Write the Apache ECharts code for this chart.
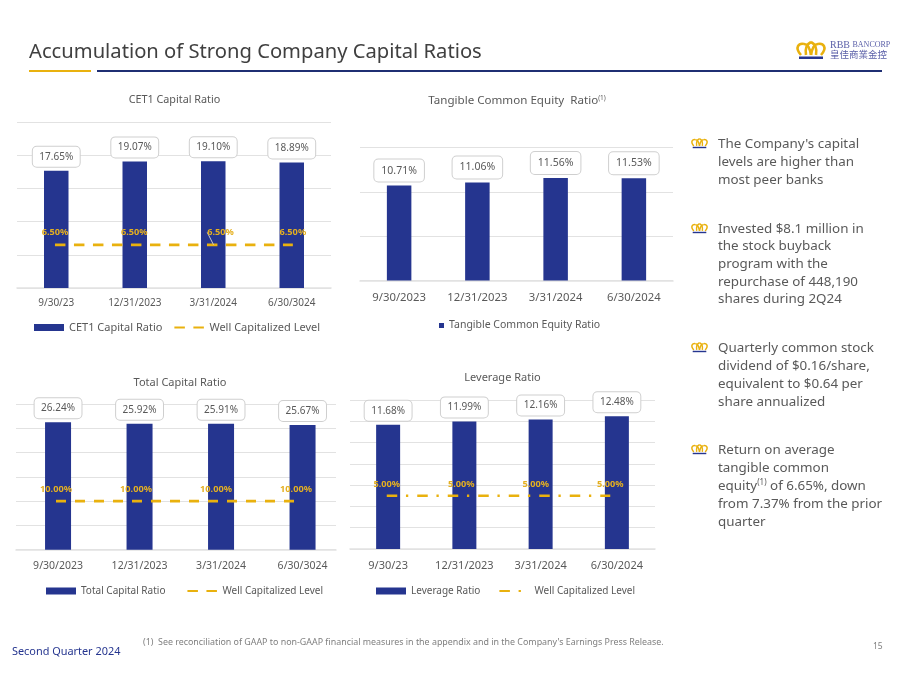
<!DOCTYPE html>
<html><head><meta charset="utf-8">
<style>html,body{margin:0;padding:0;background:#fff}#c{width:900px;height:675px}</style>
<script src="https://cdn.jsdelivr.net/npm/echarts@6/dist/echarts.min.js"></script>
</head><body><div id="c"></div>
<script>
const datesA = ['9/30/23','12/31/2023','3/31/2024','6/30/3024'];
const datesB = ['9/30/2023','12/31/2023','3/31/2024','6/30/2024'];
const datesC = ['9/30/2023','12/31/2023','3/31/2024','6/30/3024'];
const datesD = ['9/30/23','12/31/2023','3/31/2024','6/30/2024'];
const cet1 = [17.65,19.07,19.10,18.89];
const cet1Level = [6.5,6.5,6.5,6.5];
const tce = [10.71,11.06,11.56,11.53];
const total = [26.24,25.92,25.91,25.67];
const totalLevel = [10,10,10,10];
const leverage = [11.68,11.99,12.16,12.48];
const leverageLevel = [5,5,5,5];
const pageTitle = 'Accumulation of Strong Company Capital Ratios';
const footnote = "(1)  See reconciliation of GAAP to non-GAAP financial measures in the appendix and in the Company's Earnings Press Release.";
const bullets = [
 ["The Company's capital","levels are higher than","most peer banks"],
 ["Invested $8.1 million in","the stock buyback","program with the","repurchase of 448,190","shares during 2Q24"],
 ["Quarterly common stock","dividend of $0.16/share,","equivalent to $0.64 per","share annualized"],
 ["Return on average","tangible common","equity{sup|(1)} of 6.65%, down","from 7.37% from the prior","quarter"]
];
const FONT='"Noto Sans"', GREY='#595959', NAVY='#25358F', GOLD='#E9B10E', GRID='#E2E2E2';

const charts = [
 {title:'CET1 Capital Ratio', tx:174.5, ty:99, tf:10.8, cats:datesA, bars:cet1, level:cet1Level, barName:'CET1 Capital Ratio', lineName:'Well Capitalized Level',
  bg:[17,122,314,166], lg:[15.3,122,317.2,166], max:25, step:5, bw:24.5, gridOn:'bar', dash:[10.5,8.5],
  tick:10, margin:10, val:10, pad:[5,6.5,5,6.5], lblGap:8, labelDx:[1.7,1,0,-1], leaderAt:2, leaderDx:7,
  lx:34, ly:322, gap:11, lf:11},
 {title:'Tangible Common Equity  Ratio{sup|(1)}', tx:517, ty:100, tf:11.6, cats:datesB, bars:tce, barName:'Tangible Common Equity Ratio',
  bg:[360,147.5,313,133], max:15, step:5, bw:24.5, gridOn:'bar',
  tick:11.3, margin:12, val:10.5, pad:[5.5,7,5.5,7], lx:439, ly:320, lf:10.5, square:true},
 {title:'Total Capital Ratio', tx:180, ty:382, tf:11, cats:datesC, bars:total, level:totalLevel, barName:'Total Capital Ratio', lineName:'Well Capitalized Level',
  bg:[17.3,404,326,145.7], lg:[16,404,320,145.7], max:30, step:5, bw:26, gridOn:'line', dash:[10,9],
  tick:10.5, margin:11, val:10, pad:[5,6.5,5,6.5], labelDx:[2.5,4,5.5,7.5], lblGap:7, lx:46, ly:586, gap:21, lf:10},
 {title:'Leverage Ratio', tx:502.5, ty:377, tf:11, cats:datesD, bars:leverage, level:leverageLevel, barName:'Leverage Ratio', lineName:'Well Capitalized Level (Leverage)',
  bg:[350,400,305,149], lg:[349.5,400,298,149], max:14, step:2, bw:24, gridOn:'bar', dash:[10.5,8.7,2.3,9],
  tick:11, margin:11, val:10, pad:[5,6.5,5,6.5], labelDx:[2,4,5.5,7], lblGap:7, lx:376, ly:586, gap:18, lf:10}
];

const grid=[],xAxis=[],yAxis=[],series=[],legend=[],title=[];
charts.forEach(c=>{
  title.push({text:c.title,left:c.tx,top:c.ty-5,padding:0,textAlign:'center',
    textStyle:{fontFamily:FONT,fontSize:c.tf,fontWeight:'normal',color:GREY,
      rich:{sup:{fontSize:6.5,fontFamily:FONT,color:GREY,verticalAlign:'top',padding:[0,0,5,0]}}}});
  const addAxes=(b,showCat,split,showLine)=>{
    const i=grid.length;
    grid.push({left:b[0],top:b[1],width:b[2],height:b[3]});
    xAxis.push({type:'category',gridIndex:i,data:c.cats,show:true,
      axisTick:{show:false},axisLine:{show:showLine,lineStyle:{color:GRID,width:1.5}},
      axisLabel:{show:showCat,color:GREY,fontFamily:FONT,fontSize:c.tick,margin:c.margin,interval:0}});
    yAxis.push({type:'value',gridIndex:i,min:0,max:c.max,interval:c.step,
      axisLabel:{show:false},axisLine:{show:false},axisTick:{show:false},
      splitLine:{show:split,lineStyle:{color:GRID,width:1.2}}});
    return i;
  };
  const bi=addAxes(c.bg,true,c.gridOn==='bar',c.gridOn==='bar');
  series.push({name:c.barName,type:'bar',xAxisIndex:bi,yAxisIndex:bi,data:c.bars,barWidth:c.bw,z:3,
    itemStyle:{color:NAVY},
    label:{show:true,position:'top',distance:4,formatter:p=>p.value.toFixed(2)+'%',color:GREY,fontFamily:FONT,fontSize:c.val,
      backgroundColor:'#fff',borderColor:'#CFCFCF',borderWidth:1,borderRadius:4,padding:c.pad}});
  if(c.level){
    const li=addAxes(c.lg,false,c.gridOn==='line',c.gridOn==='line');
    series.push({name:c.lineName,type:'line',xAxisIndex:li,yAxisIndex:li,symbol:'circle',symbolSize:0,z:5,
      data:c.level.map((v,k)=>{
        const d={value:v,label:{offset:[c.labelDx[k],0]}};
        if(c.leaderAt===k) d.labelLine={show:true,lineStyle:{color:'#C9C9C9',width:1}};
        return d;}),
      labelLayout:p=>(c.leaderAt===p.dataIndex?{dx:c.leaderDx}:{}),
      lineStyle:{color:GOLD,width:2.6,type:c.dash},itemStyle:{color:GOLD},
      label:{show:true,position:'top',distance:c.lblGap,formatter:p=>p.value.toFixed(2)+'%',color:'#E5B020',fontFamily:FONT,fontSize:9.2,fontWeight:'bold'}});
  }
  const l={left:c.lx,top:c.ly,padding:0,orient:'horizontal',itemGap:c.gap||8,selectedMode:false,
    itemWidth:c.square?5:30,itemHeight:c.square?5:7,
    textStyle:{color:GREY,fontFamily:FONT,fontSize:c.lf},
    formatter:n=>n.replace(' (Leverage)',''),
    data:[{name:c.barName,icon:'rect'}]};
  if(c.lineName) l.data.push({name:c.lineName,itemStyle:{opacity:0}});
  legend.push(l);
});

const txt=(x,y,s,size,color,extra)=>({type:'text',x,y,silent:true,style:Object.assign({text:s,fontFamily:FONT,fontSize:size,fill:color,verticalAlign:'middle'},extra||{})});
const lobe=(a,b,c1,c2,d,e,f,g)=>({type:'bezierCurve',shape:{x1:a,y1:b,cpx1:c1,cpy1:c2,cpx2:d,cpy2:e,x2:f,y2:g},style:{fill:'none',stroke:GOLD,lineWidth:2.6}});
const crown=(x,y,w)=>{const k=w/30;return {type:'group',x,y,scaleX:k,scaleY:k,silent:true,children:[
  lobe(5,14,-2,6,3,2,8,3), lobe(8,3,12,3,14,8,15,14),
  lobe(25,14,32,6,27,2,22,3), lobe(22,3,18,3,16,8,15,14),
  lobe(10,14,9,8,11,3,15,1), lobe(15,1,19,3,21,8,20,14),
  {type:'rect',shape:{x:3,y:15.5,width:24,height:2.5},style:{fill:NAVY}}]};};

const gfx=[
 txt(29,52,pageTitle,20.2,'#404040'),
 {type:'rect',silent:true,shape:{x:29,y:70,width:62,height:2},style:{fill:GOLD}},
 {type:'rect',silent:true,shape:{x:97,y:70,width:785,height:2},style:{fill:'#1F2F73'}},
 crown(796,41,30),
 txt(830,45,'RBB {s|BANCORP}',10,'#5A5FA8',{fontFamily:'"Liberation Serif"',rich:{s:{fontFamily:'"Liberation Serif"',fontSize:8,fill:'#5A5FA8'}}}),
 txt(830,54.5,'皇佳商業金控',9.5,'#5A5FA8',{fontFamily:'"Noto Sans CJK TC"'}),
 txt(12,652,'Second Quarter 2024',10.9,NAVY),
 txt(143,642,footnote,8.9,'#7F7F7F'),
 txt(873,647,'15',8.5,'#7F7F7F')
];
const bulletY=[[144,162,180],[229,246.5,264,282,299.5],[348,366,384,402],[450,468,486,504,522]];
bullets.forEach((lines,i)=>{
  gfx.push(crown(691,bulletY[i][0]-6,17));
  lines.forEach((s,j)=>gfx.push(txt(718,bulletY[i][j],s,13.4,GREY,{rich:{sup:{fontSize:8,fontFamily:FONT,fill:GREY,verticalAlign:'top',padding:[0,0,6,0]}}})));
});

const chart=echarts.init(document.getElementById('c'),null,{renderer:'canvas'});
chart.setOption({animation:false,backgroundColor:'#fff',textStyle:{fontFamily:FONT},title,grid,xAxis,yAxis,series,legend,graphic:gfx});
</script></body></html>
